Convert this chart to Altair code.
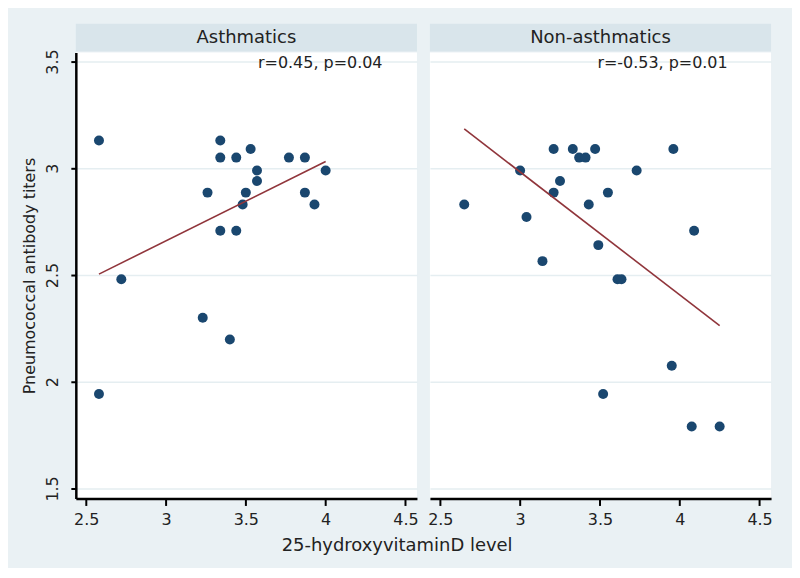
import altair as alt
import pandas as pd

# ---- data ----
asth_x = [2.58, 3.34, 3.34, 3.44, 3.53, 3.77, 3.87, 3.57, 4.00, 3.57, 3.26, 3.50,
          3.87, 3.48, 3.93, 3.34, 3.44, 2.72, 3.23, 3.40, 2.58]
asth_y = [3.13, 3.13, 3.05, 3.05, 3.09, 3.05, 3.05, 2.99, 2.99, 2.94, 2.886, 2.886,
          2.886, 2.83, 2.83, 2.707, 2.707, 2.48, 2.30, 2.198, 1.942]

non_x = [2.65, 3.00, 3.21, 3.33, 3.47, 3.96, 3.37, 3.41, 3.73, 3.25, 3.21, 3.55,
         3.43, 3.04, 4.09, 3.49, 3.14, 3.61, 3.635, 3.95, 3.52, 4.075, 4.25]
non_y = [2.83, 2.99, 3.09, 3.09, 3.09, 3.09, 3.05, 3.05, 2.99, 2.94, 2.886, 2.886,
         2.83, 2.772, 2.707, 2.64, 2.565, 2.48, 2.48, 2.075, 1.942, 1.79, 1.79]

panel_titles = ["Asthmatics", "Non-asthmatics"]
ann_text = ["r=0.45, p=0.04", "r=-0.53, p=0.01"]
ann_x = [4.356, 4.30]
ann_y = [3.495, 3.495]

x_ticks = [2.5, 3, 3.5, 4, 4.5]
y_ticks = [1.5, 2, 2.5, 3, 3.5]

FONT = "DejaVu Sans"
BG = "#eaf1f4"
STRIP = "#d9e5eb"
GRID = "#e5eef1"
NAVY = "#1a476f"
MAROON = "#90353b"
TXT = "#222222"

W, H = 342, 447
xscale = alt.Scale(domain=[2.435, 4.572], nice=False, zero=False)
yscale = alt.Scale(domain=[1.453, 3.542], nice=False, zero=False)


def panel(xs, ys, title, ann, ax, ay, first):
    df = pd.DataFrame({"x": xs, "y": ys})
    xaxis = alt.Axis(values=x_ticks, format="~g", title=None, grid=False,
                     domainColor="black", domainWidth=2.5, tickColor="black",
                     tickWidth=2, tickSize=7, labelFontSize=16, labelColor=TXT,
                     labelPadding=6, labelFont=FONT)
    if first:
        yaxis = alt.Axis(values=y_ticks, format="~g", title="Pneumococcal antibody titers",
                         grid=True, gridColor=GRID, gridWidth=1.5,
                         domainColor="black", domainWidth=2.5, tickColor="black",
                         tickWidth=2, tickSize=5, labelAngle=270, labelAlign="center",
                         labelBaseline="bottom", labelFontSize=16, labelColor=TXT,
                         labelPadding=10, titleFontSize=16, titleColor=TXT,
                         titleFontWeight="normal", titleFont=FONT, labelFont=FONT,
                         titlePadding=7)
    else:
        yaxis = alt.Axis(values=y_ticks, title=None, grid=True, gridColor=GRID,
                         gridWidth=1.5, labels=False, ticks=False, domain=False)
    base = alt.Chart(df)
    pts = base.mark_circle(size=100, color=NAVY, opacity=1).encode(
        x=alt.X("x:Q", scale=xscale, axis=xaxis),
        y=alt.Y("y:Q", scale=yscale, axis=yaxis),
    )
    fit = base.transform_regression("x", "y").mark_line(
        color=MAROON, strokeWidth=1.6).encode(x="x:Q", y="y:Q")
    tdf = pd.DataFrame({"x": [ax], "y": [ay], "t": [ann]})
    txt = alt.Chart(tdf).mark_text(align="right", baseline="middle", fontSize=16,
                                   font=FONT, color=TXT).encode(
        x="x:Q", y="y:Q", text="t:N")
    strip = alt.Chart(pd.DataFrame({"t": [title]})).mark_rect(
        color=STRIP).encode(x=alt.value(0), x2=alt.value(W),
                            y=alt.value(-29), y2=alt.value(-1))
    stext = alt.Chart(pd.DataFrame({"t": [title]})).mark_text(
        fontSize=18, font=FONT, color=TXT, baseline="middle").encode(
        x=alt.value(W / 2), y=alt.value(-15), text="t:N")
    return alt.layer(strip, stext, pts, fit, txt).properties(
        width=W, height=H, view=alt.ViewBackground(fill="white", stroke=None))


left = panel(asth_x, asth_y, panel_titles[0], ann_text[0], ann_x[0], ann_y[0], True)
right = panel(non_x, non_y, panel_titles[1], ann_text[1], ann_x[1], ann_y[1], False)

chart = alt.hconcat(left, right, spacing=13, bounds="flush").properties(
    title=alt.TitleParams("25-hydroxyvitaminD level", orient="bottom", anchor="middle",
                          fontSize=18, font=FONT, fontWeight="normal", color=TXT,
                          offset=10),
    padding={"left": 13, "top": 15, "right": 19, "bottom": 12},
    background=BG,
).configure_view(fill="white", stroke=None).configure(font=FONT)

chart.save("out.html", embed_options={"renderer": "svg", "actions": False})
